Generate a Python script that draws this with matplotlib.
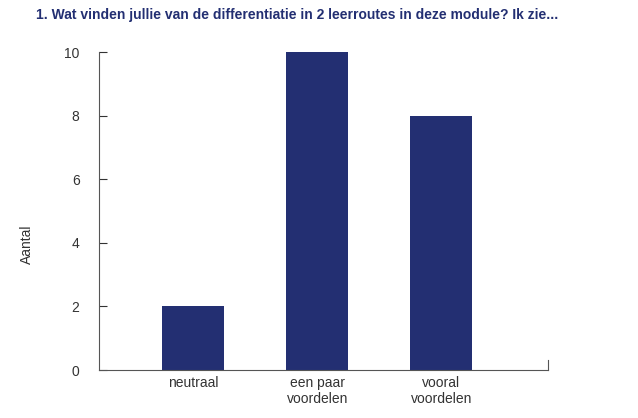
import matplotlib
matplotlib.use('Agg')
import matplotlib.pyplot as plt

categories = ['neutraal', 'een paar\nvoordelen', 'vooral\nvoordelen']
counts = [2, 10, 8]
yticks = [0, 2, 4, 6, 8, 10]

plt.rcParams['font.family'] = ['Liberation Sans', 'DejaVu Sans']

fig = plt.figure(figsize=(6.38, 4.18), dpi=100)
ax = fig.add_axes([99/638, 1-370/418, (548-99)/638, (370-52)/418])

x = list(range(len(categories)))
ax.bar(x, counts, width=0.5, color='#232f72')
ax.set_xlim(-0.76, 2.86)
ax.set_ylim(0, 10)
ax.set_yticks(yticks)
ax.set_xticks(x)
ax.set_xticklabels(categories, fontsize=10, color='#333333')
ax.tick_params(axis='x', length=0, pad=4)
ax.tick_params(axis='y', length=6, direction='in', colors='#333333', labelsize=10, pad=14)
for s in ['top', 'right']:
    ax.spines[s].set_visible(False)
for s in ['left', 'bottom']:
    ax.spines[s].set_color('#555555')
    ax.spines[s].set_linewidth(0.8)
ax.axvline(2.86, ymin=0, ymax=0.03, color='#555555', lw=0.8, clip_on=False)

fig.text(27/638, 1-244/418, 'Aantal', rotation=90, va='center', ha='center', fontsize=10, color='#333333')
fig.text(36/638, 1-15/418, '1. Wat vinden jullie van de differentiatie in 2 leerroutes in deze module? Ik zie...',
         fontsize=10, fontweight='bold', color='#232f72', va='center', ha='left')

plt.savefig('out.png', dpi=100)
